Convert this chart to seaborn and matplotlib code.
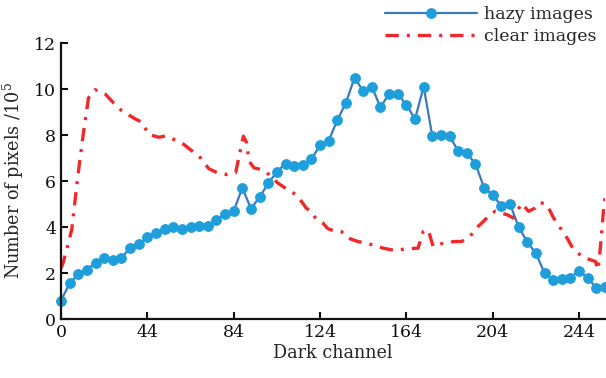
import matplotlib
matplotlib.use('Agg')
import matplotlib.pyplot as plt
import seaborn as sns
import pandas as pd

sns.set_theme(style='ticks')
plt.rcParams['font.family'] = ['DejaVu Serif']
plt.rcParams['mathtext.fontset'] = 'dejavuserif'

# histogram of dark channel values, hazy vs clear images
dark_channel = [4, 8, 12, 16, 20, 24, 28, 32, 36, 40, 44, 48, 52, 56, 60, 64,
                68, 72, 76, 80, 84, 88, 92, 96, 100, 104, 108, 112, 116, 120, 124, 128,
                132, 136, 140, 144, 148, 152, 156, 160, 164, 168, 172, 176, 180, 184, 188, 192,
                196, 200, 204, 208, 212, 216, 220, 224, 228, 232, 236, 240, 244, 248, 252, 256]
hazy = [0.8, 1.55, 1.95, 2.15, 2.45, 2.65, 2.55, 2.65, 3.1, 3.25, 3.55, 3.75, 3.9, 4.0, 3.9, 4.0,
        4.05, 4.05, 4.3, 4.55, 4.7, 5.7, 4.8, 5.3, 5.9, 6.4, 6.75, 6.65, 6.7, 6.95, 7.55, 7.75,
        8.65, 9.4, 10.5, 9.9, 10.1, 9.2, 9.8, 9.8, 9.3, 8.7, 10.1, 7.95, 8.0, 7.95, 7.3, 7.2,
        6.75, 5.7, 5.4, 4.9, 5.0, 4.0, 3.35, 2.85, 2.0, 1.7, 1.72, 1.8, 2.1, 1.77, 1.35, 1.4]

clear_x = [4, 5, 7.4, 9, 10.2, 11.3, 12.4, 14.4, 16.7, 19.8, 24.5, 28.3, 32.2, 38.4, 41.5, 44.6,
           49.3, 52.4, 56.2, 60.9, 64.8, 68.7, 72.5, 76.4, 81.1, 84.9, 86.5, 88.5, 90, 91.1, 93.4, 96.6,
           100.4, 104.3, 108.9, 112.8, 115.9, 117.5, 120.6, 122.1, 125.3, 127.6, 129.9, 133.8, 136.9, 141.5,
           145.4, 149.3, 153.2, 158.6, 163.2, 169.4, 171.8, 173.8, 174.8, 176.4, 181.1, 186.5, 189.6, 193.4,
           197.3, 198.9, 202.8, 205.1, 207.4, 210.5, 213.6, 215.2, 217.5, 220.6, 223.7, 226, 229.1, 232.2,
           235.3, 238.4, 241.5, 245.4, 249.3, 251.6, 252.8, 253.9, 255.2, 256.3]
clear = [2.2, 2.45, 3.3, 3.9, 4.9, 5.8, 6.65, 8.1, 9.6, 9.97, 9.78, 9.4, 9.05, 8.7, 8.55, 8.03,
         7.9, 7.96, 7.81, 7.59, 7.3, 7.0, 6.53, 6.36, 6.28, 6.36, 7.08, 7.95, 7.66, 6.86, 6.57, 6.5,
         6.28, 5.92, 5.63, 5.41, 5.05, 4.83, 4.61, 4.35, 4.17, 3.93, 3.85, 3.81, 3.52, 3.37,
         3.3, 3.2, 3.08, 2.98, 3.04, 3.08, 3.81, 3.88, 3.66, 3.15, 3.3, 3.37, 3.37, 3.59,
         4.03, 4.17, 4.54, 4.68, 4.61, 4.54, 4.39, 4.68, 5.02, 4.68, 4.83, 5.07, 4.97, 4.39,
         3.96, 3.52, 3.01, 2.72, 2.57, 2.5, 2.14, 3.15, 4.61, 5.48]

tick_pos = [4, 44, 84, 124, 164, 204, 244]
tick_labels = ['0', '44', '84', '124', '164', '204', '244']

df_hazy = pd.DataFrame({'x': dark_channel, 'y': hazy})
df_clear = pd.DataFrame({'x': clear_x, 'y': clear})

fig, ax = plt.subplots(figsize=(6.06, 3.78), dpi=100)
fig.subplots_adjust(left=61/606, right=605/606, bottom=59/378, top=335/378)

sns.lineplot(data=df_clear, x='x', y='y', ax=ax, color='#f02828', linewidth=2.4,
             linestyle=(0, (4.0, 2.4, 0.9, 2.4)), sort=False, errorbar=None,
             label='clear images')
sns.lineplot(data=df_hazy, x='x', y='y', ax=ax, color='#3a78c0', linewidth=1.6,
             marker='o', markersize=7, markerfacecolor='#1e9fdb', markeredgecolor='#1e9fdb',
             sort=False, errorbar=None, label='hazy images', clip_on=False)

ax.set_xlim(4, 256)
ax.set_ylim(0, 12)
ax.set_xticks(tick_pos)
ax.set_xticklabels(tick_labels)
ax.set_yticks([0, 2, 4, 6, 8, 10, 12])
ax.tick_params(direction='in', length=5, width=1.5, labelsize=12.5, colors='#111111')
for s in ['left', 'bottom']:
    ax.spines[s].set_linewidth(1.6)
    ax.spines[s].set_color('#111111')
sns.despine(ax=ax)

ax.set_xlabel('Dark channel', fontsize=12.7, labelpad=2)
ax.set_ylabel('Number of pixels /10$^5$', fontsize=12.7, labelpad=6)

handles, labels = ax.get_legend_handles_labels()
ax.legend(handles[::-1], labels[::-1], loc='upper left', bbox_to_anchor=(383/606, 0.988),
          bbox_transform=fig.transFigure, frameon=False, fontsize=12.5,
          handlelength=5.3, handletextpad=0.4, labelspacing=0.3, borderpad=0.1,
          borderaxespad=0)

fig.savefig('out.png', dpi=100)
